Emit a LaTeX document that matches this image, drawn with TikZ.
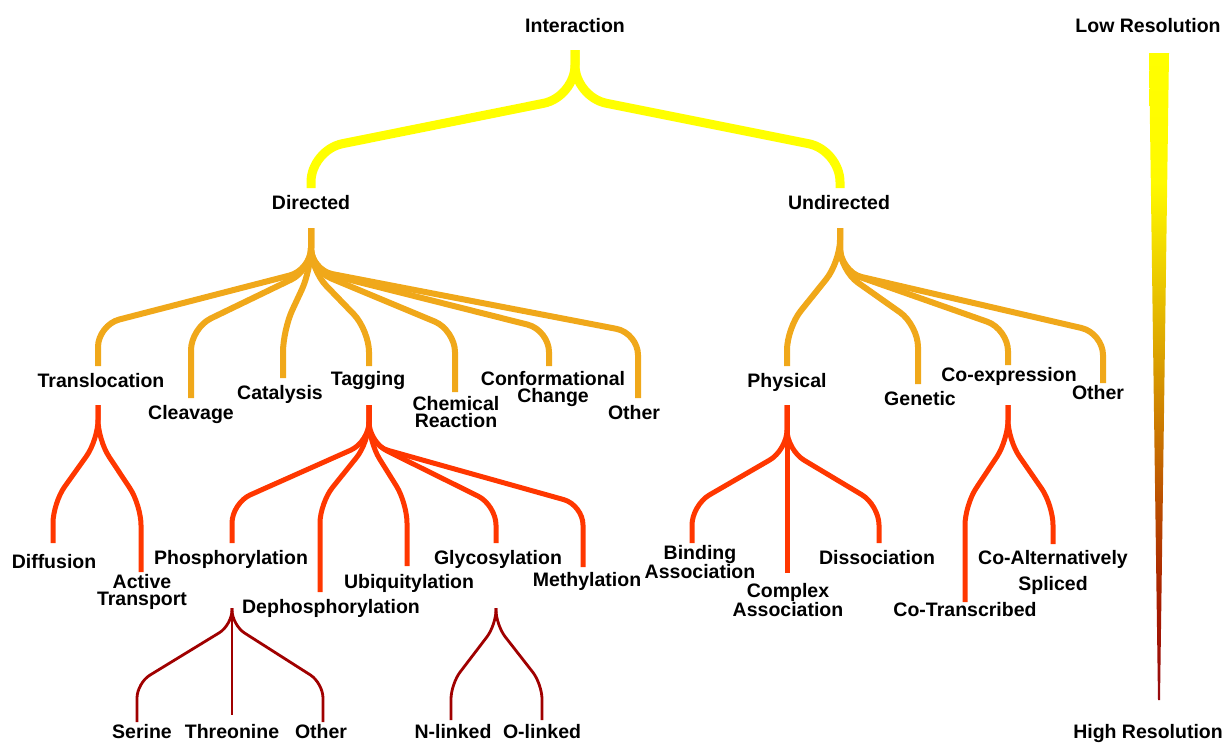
\documentclass[tikz,border=0pt]{standalone}
\usepackage{fontspec}
\setmainfont{Liberation Sans}
\definecolor{lvAcol}{RGB}{255,255,0}
\definecolor{lvBcol}{RGB}{240,168,26}
\definecolor{lvCcol}{RGB}{255,55,0}
\definecolor{lvDcol}{RGB}{160,0,0}
\pgfdeclareverticalshading{resol}{100bp}{rgb(0bp)=(0.59,0.04,0.06); rgb(25bp)=(0.59,0.04,0.06); rgb(32bp)=(0.65,0.1,0); rgb(40bp)=(0.73,0.3,0); rgb(50bp)=(0.84,0.59,0); rgb(57bp)=(0.92,0.78,0); rgb(65bp)=(1,0.98,0); rgb(75bp)=(1,1,0); rgb(100bp)=(1,1,0)}
\newcommand\branchline[5]{\draw[#1] (#2) -- (#2 |- 0,#4) -- (#3 |- 0,#5) -- (#3);}
\begin{document}
\begin{tikzpicture}[x=1pt,y=-1pt,
  lab/.style={font=\bfseries\fontsize{19.5}{17.5}\selectfont, inner sep=0pt, anchor=base, align=center},
  labn/.style={lab, anchor=north},
  lvA/.style={draw=lvAcol, line width=9pt, rounded corners=32pt},
  lvB/.style={draw=lvBcol, line width=6pt, rounded corners=22pt},
  lvC/.style={draw=lvCcol, line width=5pt, rounded corners=20pt},
  lvD/.style={draw=lvDcol, line width=2.8pt, rounded corners=15pt}]
\useasboundingbox (0,0) rectangle (1224,742);

% ---- coordinates: level 1
\coordinate (tInt) at (575,50);
\coordinate (eDir) at (311,188);
\coordinate (eUnd) at (840,188);
% ---- level 2
\coordinate (tDir) at (311,228);
\coordinate (eTrans) at (98,366);
\coordinate (eCleav) at (191,398);
\coordinate (eCatal) at (283,378);
\coordinate (eTag) at (369,366);
\coordinate (eChem) at (455,392);
\coordinate (eConf) at (549,366);
\coordinate (eOthD) at (638,398);
\coordinate (tUnd) at (840,228);
\coordinate (ePhys) at (787,366);
\coordinate (eGen) at (918,384);
\coordinate (eCoex) at (1008,365);
\coordinate (eOthU) at (1103,383);
% ---- level 3
\coordinate (tTrans) at (98,405);
\coordinate (eDiff) at (53,543);
\coordinate (eAct) at (141,572);
\coordinate (tTag) at (369,405);
\coordinate (ePhos) at (232,543);
\coordinate (eDeph) at (320,592);
\coordinate (eUbiq) at (407,566);
\coordinate (eGlyc) at (496,543);
\coordinate (eMeth) at (583,567);
\coordinate (tPhys) at (787,405);
\coordinate (eBind) at (692,543);
\coordinate (eComp) at (787,573);
\coordinate (eDiss) at (879,543);
\coordinate (tCoex) at (1008,405);
\coordinate (eCoT) at (965,602);
\coordinate (eCoA) at (1053,544);
% ---- level 4
\coordinate (tPhos) at (232,608);
\coordinate (eSer) at (137,722);
\coordinate (eThr) at (232,715);
\coordinate (eOthP) at (323,722);
\coordinate (tGlyc) at (496,608);
\coordinate (eNl) at (451,720);
\coordinate (eOl) at (542,720);

% ---- connectors
\branchline{lvA}{tInt}{eDir}{97}{150}
\branchline{lvA}{tInt}{eUnd}{97}{150}

\branchline{lvB}{tDir}{eTrans}{270}{325}
\branchline{lvB}{tDir}{eCleav}{270}{328}
\branchline{lvB}{tDir}{eCatal}{270}{330}
\branchline{lvB}{tDir}{eTag}{270}{330}
\branchline{lvB}{tDir}{eChem}{270}{330}
\branchline{lvB}{tDir}{eConf}{270}{330}
\branchline{lvB}{tDir}{eOthD}{270}{333}
\branchline{lvB}{tUnd}{ePhys}{262}{328}
\branchline{lvB}{tUnd}{eGen}{270}{325}
\branchline{lvB}{tUnd}{eCoex}{270}{329}
\branchline{lvB}{tUnd}{eOthU}{272}{333}

\branchline{lvC}{tTrans}{eDiff}{440}{503}
\branchline{lvC}{tTrans}{eAct}{440}{505}
\branchline{lvC}{tTag}{ePhos}{442}{503}
\branchline{lvC}{tTag}{eDeph}{442}{503}
\branchline{lvC}{tTag}{eUbiq}{442}{503}
\branchline{lvC}{tTag}{eGlyc}{442}{505}
\branchline{lvC}{tTag}{eMeth}{445}{505}
\branchline{lvC}{tPhys}{eBind}{450}{505}
\draw[lvC] (tPhys) -- (eComp);
\branchline{lvC}{tPhys}{eDiss}{450}{505}
\branchline{lvC}{tCoex}{eCoT}{440}{505}
\branchline{lvC}{tCoex}{eCoA}{440}{505}

\branchline{lvD}{tPhos}{eSer}{625}{683}
\draw[lvD] (tPhos) -- (eThr);
\branchline{lvD}{tPhos}{eOthP}{625}{683}
\branchline{lvD}{tGlyc}{eNl}{625}{684}
\branchline{lvD}{tGlyc}{eOl}{625}{684}

% ---- resolution wedge
\shade[shading=resol] (1149,53) -- (1169,53) -- (1160,700) -- (1158,700) -- cycle;

% ---- labels
\node[lab] (Interaction) at (575,32) {Interaction};
\node[lab] (LowRes) at (1148,32) {Low Resolution};
\node[lab] (HighRes) at (1148,738.5) {High Resolution};
\node[lab] (Directed) at (311,209) {Directed};
\node[lab] (Undirected) at (839,209) {Undirected};
\node[lab] (Translocation) at (101,387) {Translocation};
\node[lab] (Cleavage) at (191,419) {Cleavage};
\node[lab] (Catalysis) at (280,399) {Catalysis};
\node[lab] (Tagging) at (368,385) {Tagging};
\node[labn] (Chemical) at (456,395.8) {Chemical\\Reaction};
\node[labn] (Conformational) at (553,370.8) {Conformational\\Change};
\node[lab] (OtherD) at (634,419) {Other};
\node[lab] (Physical) at (787,387) {Physical};
\node[lab] (Genetic) at (920,405) {Genetic};
\node[lab] (Coexpression) at (1009,381) {Co-expression};
\node[lab] (OtherU) at (1098,399) {Other};
\node[lab] (Diffusion) at (54,568) {Diffusion};
\node[labn] (Active) at (142,573.8) {Active\\Transport};
\node[lab] (Phosphorylation) at (231,564) {Phosphorylation};
\node[lab] (Dephosphorylation) at (331,613) {Dephosphorylation};
\node[lab] (Ubiquitylation) at (409,588) {Ubiquitylation};
\node[lab] (Glycosylation) at (498,564) {Glycosylation};
\node[lab] (Methylation) at (587,586) {Methylation};
\node[labn] (Binding) at (700,544.8) {Binding\\Association};
\node[labn] (Complex) at (788,582.8) {Complex\\Association};
\node[lab] (Dissociation) at (877,564) {Dissociation};
\node[lab] (CoTranscribed) at (965,616) {Co-Transcribed};
\node[labn] (CoAlt) at (1053,549.8) {Co-Alternatively\\[7.5pt]Spliced};
\node[lab] (Serine) at (142,738.5) {Serine};
\node[lab] (Threonine) at (232,738.5) {Threonine};
\node[lab] (OtherP) at (321,738.5) {Other};
\node[lab] (Nlinked) at (453,738.5) {N-linked};
\node[lab] (Olinked) at (542,738.5) {O-linked};
\end{tikzpicture}
\end{document}
